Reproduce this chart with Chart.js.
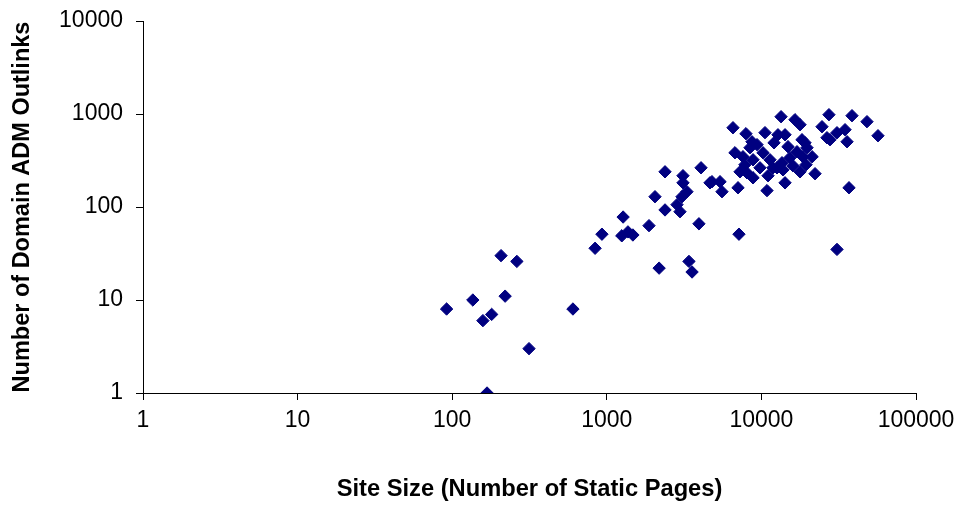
<!DOCTYPE html>
<html>
<head>
<meta charset="utf-8">
<script src="https://cdn.jsdelivr.net/npm/chart.js@4.4.0/dist/chart.umd.min.js"></script>
<style>
  html, body { margin: 0; padding: 0; background: #ffffff; }
  #wrap { width: 966px; height: 508px; }
</style>
</head>
<body>
<div id="wrap"><canvas id="chart" width="966" height="508"></canvas></div>
<script>
// Site size (static pages) for each site
const siteSize = [
  92, 136, 158, 180, 207, 220, 262, 314, 168, 604,
  840, 930, 1275, 1250, 1370, 1475, 1875, 2050, 2180, 2380,
  2380, 2845, 2975, 3110, 3110, 3300, 3065, 4070, 3945, 3400,
  3560, 4650, 5400, 5560, 6550, 7945, 10550, 12070, 8440, 7600,
  8830, 10240, 11370, 13400, 12800, 11880, 7275, 8075, 8830, 7060,
  10870, 16490, 17780, 24660, 27350, 26550, 14220, 18310, 19730, 16990,
  13590, 15310, 12620, 22230, 14220, 38550, 48190, 56770, 30830, 34750,
  35810, 27790, 36870, 30830, 7160, 6746, 9370, 9790, 14860, 16000,
  19450, 21290, 17780, 7830, 11040, 19140, 18580, 8690, 13800, 4790
];
// Domain ADM outlinks for each site
const outlinks = [
  8, 10, 6, 7, 30, 11, 26, 3, 1, 8,
  36, 51, 78, 49, 54, 50, 63, 129, 22, 239,
  93, 106, 89, 217, 182, 146, 129, 264, 66, 26,
  20, 182, 187, 146, 712, 614, 630, 490, 434, 347,
  322, 383, 322, 935, 598, 264, 239, 233, 206, 161,
  150, 868, 767, 730, 983, 556, 598, 529, 434, 393,
  299, 339, 264, 228, 182, 959, 827, 584, 629, 678,
  503, 529, 161, 35, 51, 383, 468, 264, 445, 278,
  285, 347, 239, 285, 217, 491, 347, 503, 251, 187
];

const xTickValues = [1, 10, 100, 1000, 10000, 100000];
const yTickValues = [1, 10, 100, 1000, 10000];
const xTitle = 'Site Size (Number of Static Pages)';
const yTitle = 'Number of Domain ADM Outlinks';

const FONT = "'Liberation Sans', Arial, sans-serif";
const markerColor = '#000080';

const points = siteSize.map((x, i) => ({ x: x, y: outlinks[i] }));

const axisCommon = {
  type: 'logarithmic',
  grid: { drawOnChartArea: false, color: '#000000', lineWidth: 1, tickLength: 7 },
  border: { display: true, color: '#000000', width: 1 },
};

new Chart(document.getElementById('chart'), {
  type: 'scatter',
  data: {
    datasets: [{
      data: points,
      pointStyle: 'rectRot',
      pointRadius: 6.2,
      pointHoverRadius: 6.2,
      backgroundColor: markerColor,
      borderColor: markerColor,
      borderWidth: 1
    }]
  },
  options: {
    responsive: false,
    animation: false,
    devicePixelRatio: 1,
    layout: { padding: { top: 21, right: 50, left: 0, bottom: 0 } },
    plugins: { legend: { display: false }, tooltip: { enabled: false } },
    scales: {
      x: Object.assign({}, axisCommon, {
        position: 'bottom',
        min: 1,
        max: 100000,
        afterBuildTicks: (s) => { s.ticks = xTickValues.map(v => ({ value: v })); },
        afterFit: (s) => { s.height = 508 - 393; },
        ticks: {
          color: '#000000',
          font: { family: FONT, size: 23 },
          padding: 7,
          maxRotation: 0,
          autoSkip: false,
          callback: (v) => String(v)
        },
        title: {
          display: true,
          text: xTitle,
          color: '#000000',
          font: { family: FONT, size: 23.7, weight: 'bold' },
          padding: { top: 0, bottom: 4 }
        }
      }),
      y: Object.assign({}, axisCommon, {
        position: 'left',
        min: 1,
        max: 10000,
        afterBuildTicks: (s) => { s.ticks = yTickValues.map(v => ({ value: v })); },
        afterFit: (s) => { s.width = 143; s.paddingTop = 0; s.paddingBottom = 0; },
        ticks: {
          color: '#000000',
          font: { family: FONT, size: 23 },
          padding: 13,
          autoSkip: false,
          callback: (v) => String(v)
        },
        title: {
          display: true,
          text: yTitle,
          color: '#000000',
          font: { family: FONT, size: 23.5, weight: 'bold' },
          padding: { top: 8, bottom: 0 }
        }
      })
    }
  }
});
</script>
</body>
</html>
